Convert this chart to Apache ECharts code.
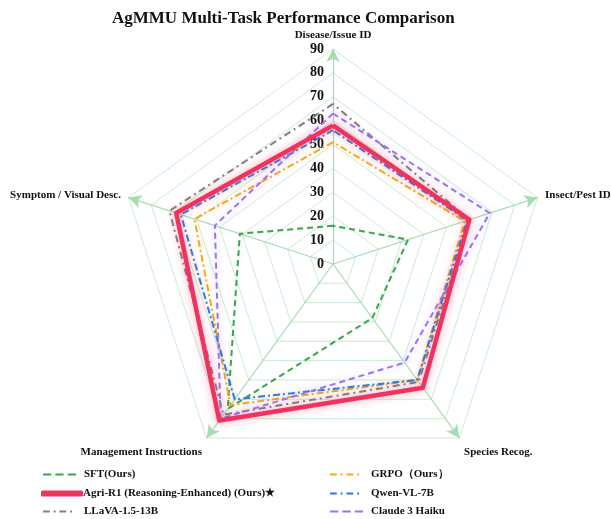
<!DOCTYPE html>
<html>
<head>
    <meta charset="utf-8">
    <title>AgMMU radar</title>
    <script src="https://cdn.jsdelivr.net/npm/echarts@6/dist/echarts.min.js"></script>
</head>
<body style="margin:0">
<div id="main" style="width: 611px;height:519px;"></div>
<script type="text/javascript">
    // indicators, in ECharts order (counter-clockwise from top)
    var indicators = ['Disease/Issue ID', 'Symptom / Visual Desc.', 'Management Instructions', 'Species Recog.', 'Insect/Pest ID'];
    var ticks = [0, 10, 20, 30, 40, 50, 60, 70, 80, 90];

    var sft = [16, 41, 75, 28, 33];
    var grpo = [51, 61, 73, 60, 58];
    var agri = [58, 69, 81, 64, 60];
    var qwen = [56, 67, 70, 60, 59];
    var llava = [67, 72, 78, 61, 60];
    var claude = [63, 52, 80, 51, 69];

    var serif = '"Liberation Serif", "DejaVu Serif", serif';
    var cx = 333, cy = 264, R = 215;

    function mk(name, values, color, width, dash, z, glow) {
        return {
            type: 'radar',
            name: name,
            z: z,
            symbol: 'none',
            lineStyle: {
                color: color,
                width: width,
                type: dash,
                shadowBlur: glow ? 8 : 4,
                shadowColor: glow || 'rgba(0,0,0,0.12)'
            },
            itemStyle: {color: color},
            data: [{value: values, name: name}]
        }
    }

    var dashIcon = 'path://M0,0h8v2h-8z M12,0h8v2h-8z M24,0h8v2h-8z';
    var dotIcon = 'path://M0,0h7v2h-7z M11,0h2v2h-2z M17,0h7v2h-7z M28,0h2v2h-2z M34,0h0v2h0z';

    // one legend per entry so the two columns sit where the reference has them
    var legendItems = [
        ['SFT(Ours)', dashIcon, 43, 469],
        ['Agri-R1 (Reasoning-Enhanced) (Ours)★', 'roundRect', 41, 488],
        ['LLaVA-1.5-13B', dotIcon, 43, 506],
        ['GRPO（Ours）', dotIcon, 330, 469],
        ['Qwen-VL-7B', dotIcon, 330, 488],
        ['Claude 3 Haiku', dashIcon, 330, 506]
    ];
    var legends = legendItems.map(function (it) {
        var thick = it[1] === 'roundRect';
        return {
            left: it[2],
            top: it[3],
            itemWidth: thick ? 42 : 33,
            itemHeight: thick ? 6 : 3,
            itemGap: 0,
            padding: 0,
            textStyle: {fontFamily: serif, fontWeight: 'bold', fontSize: 11, color: '#111', padding: [0, 0, 0, thick ? -5 : 3]},
            data: [{name: it[0], icon: it[1]}]
        };
    });

    var chart = echarts.init(document.getElementById('main'));
    var option = {
        animation: false,
        title: {
            text: 'AgMMU Multi-Task Performance Comparison',
            left: 107,
            top: 5,
            textStyle: {fontFamily: serif, fontWeight: 'bold', fontSize: 17, color: '#111'}
        },
        legend: legends,
        radar: {
            center: [cx, cy],
            radius: R,
            startAngle: 90,
            splitNumber: 9,
            shape: 'polygon',
            indicator: indicators.map(function (n) {
                return {name: n, min: 0, max: 90};
            }),
            axisName: {
                color: '#111',
                fontFamily: serif,
                fontWeight: 'bold',
                fontSize: 11,
                // the two bottom names sit a little lower in the reference
                formatter: function (name) {
                    return (name === 'Management Instructions' || name === 'Species Recog.')
                        ? '{low|' + name + '}' : name;
                },
                rich: {
                    low: {
                        fontFamily: serif, fontWeight: 'bold', fontSize: 11, color: '#111',
                        padding: [16, 0, 0, 0]
                    }
                }
            },
            nameGap: 8,
            axisLine: {
                symbol: ['none', 'arrow'],
                symbolSize: [10, 13],
                lineStyle: {color: '#a6dcb2', width: 1.2}
            },
            splitLine: {lineStyle: {color: '#c8ecd1', width: 1}},
            splitArea: {show: false}
        },
        // hidden cartesian axis used only for the tick labels on the top spoke
        grid: {left: cx, top: cy - R, height: R, width: 1},
        xAxis: {show: false, type: 'value'},
        yAxis: {
            type: 'value',
            min: 0, max: 90, interval: 10,
            axisLine: {show: false},
            axisTick: {show: false},
            splitLine: {show: false},
            axisLabel: {margin: 9, fontFamily: serif, fontWeight: 'bold', fontSize: 14, color: '#111'}
        },
        series: [
            mk('SFT(Ours)', sft, '#3aa651', 2, [6, 4], 2),
            mk('GRPO（Ours）', grpo, '#f5a623', 2, [7, 3, 2, 3], 3, 'rgba(245,166,35,0.35)'),
            mk('Qwen-VL-7B', qwen, '#2f7be0', 2, [7, 3, 2, 3], 4),
            mk('LLaVA-1.5-13B', llava, '#808080', 2, [7, 4, 2, 4], 5),
            mk('Claude 3 Haiku', claude, '#a070f0', 2, [6, 4], 6, 'rgba(140,110,255,0.45)'),
            mk('Agri-R1 (Reasoning-Enhanced) (Ours)★', agri, '#f0325f', 4.5, 'solid', 7, 'rgba(240,50,95,0.45)')
        ]
    };
    chart.setOption(option);
</script>
</body>
</html>
